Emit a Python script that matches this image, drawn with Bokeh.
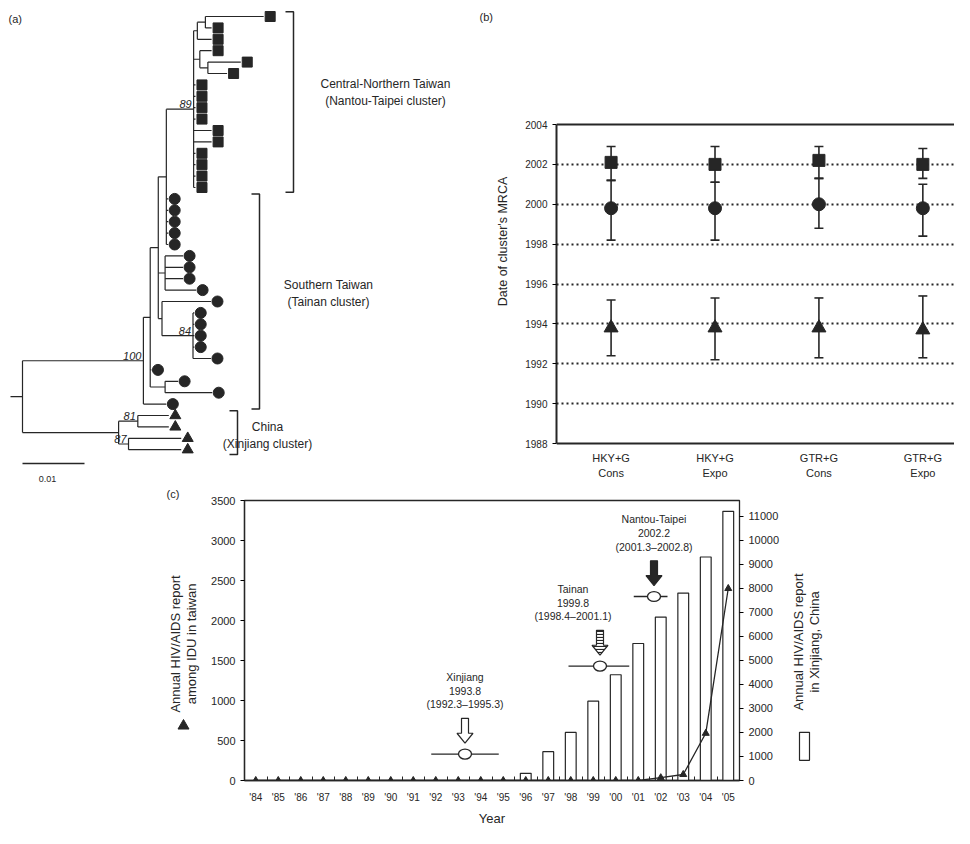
import re
import math
from bokeh.plotting import figure
from bokeh.models import (Range1d, LinearAxis, FixedTicker, Whisker, TeeHead,
                          Span, ColumnDataSource)
from bokeh.layouts import column, row
from bokeh.embed import file_html
from bokeh.resources import INLINE
from bokeh.core.properties import value

FONT = "Liberation Sans"
INK = "#262626"

# ---------------- DATA ----------------
# (a) ML tree, branch lengths in substitutions/site, internal labels = bootstrap
tree_newick = (
    "((((((((NT01:0.0094,NT02:0.0010):0.0013,NT03:0.0023):0.0006,"
    "(NT04:0.0019,(NT05:0.0053,NT06:0.0031):0.0013):0.0010,"
    "NT07:0.0003,NT08:0.0003,NT09:0.0003,NT10:0.0003,NT11:0.0029,NT12:0.0029,"
    "NT13:0.0003,NT14:0.0003,NT15:0.0003,NT16:0.0003)89:0.0044,"
    "TN01:0.0003,TN02:0.0003,TN03:0.0003,TN04:0.0003,TN05:0.0003):0.0013,"
    "(TN06:0.0029,TN07:0.0029,TN08:0.0029,TN09:0.0050):0.0011,"
    "(TN10:0.0079,(TN11:0.0002,TN12:0.0002,TN13:0.0002,TN14:0.0002,TN15:0.0029)84:0.0050):0.0006"
    "):0.0013,"
    "TN16:0.0002,(TN17:0.0021,TN18:0.0076):0.0024):0.0011,"
    "TN19:0.0037)100:0.0195,"
    "((XJ1:0.0050,XJ2:0.0050)81:0.0031,(XJ3:0.0085,XJ4:0.0085)87:0.0016):0.0155);"
)
cluster_prefix = ["NT", "TN", "XJ"]
cluster_markers = ["square", "circle", "triangle"]
cluster_labels = ["Central-Northern Taiwan\n(Nantou-Taipei cluster)",
                  "Southern Taiwan\n(Tainan cluster)",
                  "China\n(Xinjiang cluster)"]
scale_bar_len = 0.01

# (b) dates of the clusters' MRCA under four models
models = ["HKY+G\nCons", "HKY+G\nExpo", "GTR+G\nCons", "GTR+G\nExpo"]
nt_mrca = [2002.1, 2002.0, 2002.2, 2002.0]
nt_low = [2001.2, 2001.1, 2001.3, 2001.3]
nt_high = [2002.9, 2002.9, 2002.9, 2002.8]
tn_mrca = [1999.8, 1999.8, 2000.0, 1999.8]
tn_low = [1998.2, 1998.2, 1998.8, 1998.4]
tn_high = [2001.2, 2001.1, 2001.3, 2001.0]
xj_mrca = [1993.8, 1993.8, 1993.8, 1993.7]
xj_low = [1992.4, 1992.2, 1992.3, 1992.3]
xj_high = [1995.2, 1995.3, 1995.3, 1995.4]

# (c) annual reports
years = [1984, 1985, 1986, 1987, 1988, 1989, 1990, 1991, 1992, 1993, 1994,
         1995, 1996, 1997, 1998, 1999, 2000, 2001, 2002, 2003, 2004, 2005]
year_labels = ["'84", "'85", "'86", "'87", "'88", "'89", "'90", "'91", "'92", "'93", "'94",
               "'95", "'96", "'97", "'98", "'99", "'00", "'01", "'02", "'03", "'04", "'05"]
taiwan_idu = [0, 0, 0, 0, 0, 0, 0, 0, 0, 0, 0,
              0, 0, 0, 0, 0, 0, 0, 35, 75, 590, 2400]
xinjiang = [0, 0, 0, 0, 0, 0, 0, 0, 0, 0, 0,
            0, 300, 1200, 2000, 3300, 4400, 5700, 6800, 7800, 9300, 11200]
cl_names = ["Xinjiang", "Tainan", "Nantou-Taipei"]
cl_mrca = [1993.8, 1999.8, 2002.2]
cl_low = [1992.3, 1998.4, 2001.3]
cl_high = [1995.3, 2001.1, 2002.8]

# ---------------- layout constants ----------------
TOP_H = 482
A_W, B_W = 493, 461

# ================= (a) tree =================
def parse_newick(s):
    pos = 0

    def node():
        nonlocal pos
        n = {"children": [], "name": "", "length": 0.0}
        if s[pos] == "(":
            pos += 1
            while True:
                n["children"].append(node())
                if s[pos] == ",":
                    pos += 1
                    continue
                pos += 1  # ')'
                break
        m = re.match(r"[^:,();]*", s[pos:])
        n["name"] = m.group(0)
        pos += len(m.group(0))
        if s[pos] == ":":
            pos += 1
            m = re.match(r"[0-9.eE+-]+", s[pos:])
            n["length"] = float(m.group(0))
            pos += len(m.group(0))
        return n
    return node()


root = parse_newick(tree_newick)
leaves = []
internals = []


def layout(n, x0):
    n["x"] = x0 + n["length"]
    if not n["children"]:
        n["y"] = float(len(leaves))
        leaves.append(n)
    else:
        for c in n["children"]:
            layout(c, n["x"])
        n["y"] = (n["children"][0]["y"] + n["children"][-1]["y"]) / 2
        internals.append(n)


layout(root, 0.0)

PXU = 6200.0          # screen px per substitution unit
ROOT_PX = 22.0
LEAF_PX = 11.4
LEAF0_PX = 16.0


def ax_(px):
    return (px - ROOT_PX) / PXU


def ay_(py):
    return (py - LEAF0_PX) / LEAF_PX


pa = figure(width=A_W, height=TOP_H, output_backend="svg", toolbar_location=None,
            x_range=Range1d(ax_(0), ax_(A_W)), y_range=Range1d(ay_(TOP_H), ay_(0)),
            x_axis_location=None, y_axis_location=None, min_border=0)
pa.grid.visible = False
pa.outline_line_color = None

hx0, hx1, hy, vx, vy0, vy1 = [], [], [], [], [], []
for n in internals:
    vx.append(n["x"])
    vy0.append(n["children"][0]["y"])
    vy1.append(n["children"][-1]["y"])
    for c in n["children"]:
        hx0.append(n["x"])
        hx1.append(c["x"])
        hy.append(c["y"])
hx0.append(root["x"] - 12 / PXU)
hx1.append(root["x"])
hy.append(root["y"])
pa.segment(x0=hx0, y0=hy, x1=hx1, y1=hy, line_color=INK, line_width=1.2)
pa.segment(x0=vx, y0=vy0, x1=vx, y1=vy1, line_color=INK, line_width=1.2)

marker_sizes = {"square": 10, "circle": 11, "triangle": 11}
for pre, mk in zip(cluster_prefix, cluster_markers):
    lv = [l for l in leaves if l["name"].startswith(pre)]
    pa.scatter([l["x"] + 6.5 / PXU for l in lv], [l["y"] for l in lv], marker=mk,
               size=marker_sizes[mk], fill_color=INK, line_color=INK)

bs = [n for n in internals if n["name"]]
pa.text(x=[n["x"] - 2 / PXU for n in bs], y=[n["y"] - 0.1 for n in bs],
        text=[n["name"] for n in bs], text_font=value(FONT), text_font_size="11px",
        text_font_style="italic", text_align="right", text_baseline="bottom",
        text_color=INK)

bracket_px = [293, 259, 237]
label_px = [385, 328, 267]
label_shift = [-0.85, -0.7, 0.25]
for pre, bpx, lpx, sh, lab in zip(cluster_prefix, bracket_px, label_px, label_shift,
                                  cluster_labels):
    ys = [l["y"] for l in leaves if l["name"].startswith(pre)]
    y0, y1 = min(ys) - 0.42, max(ys) + 0.42
    bx, tx = ax_(bpx), ax_(bpx - 8)
    pa.line([tx, bx, bx, tx], [y0, y0, y1, y1], line_color=INK, line_width=1.5)
    pa.text(x=[ax_(lpx)], y=[(min(ys) + max(ys)) / 2 + sh], text=[lab],
            text_font=value(FONT), text_font_size="12px", text_align="center",
            text_baseline="middle", text_color=INK)

sb_y = ay_(463)
pa.line([0, scale_bar_len], [sb_y, sb_y], line_color=INK, line_width=1.5)
pa.text(x=[scale_bar_len / 2 - 6 / PXU], y=[ay_(478)], text=["0.01"], text_font=value(FONT),
        text_font_size="9px", text_align="center", text_baseline="middle", text_color=INK)
pa.text(x=[ax_(8)], y=[ay_(18)], text=["(a)"], text_font=value(FONT), text_font_size="11px",
        text_baseline="middle", text_color=INK)
pa.text(x=[ax_(479)], y=[ay_(16)], text=["(b)"], text_font=value(FONT), text_font_size="11px",
        text_baseline="middle", text_color=INK)

# ================= (b) MRCA dates =================
B_LEFT = 553 - A_W
B_FT, B_FB = 124, 443           # frame top / bottom (page px) for 2004 / 1988
B_YPX = (B_FB - B_FT) / 16.0
B_XPX = 104.7
B_XS = -55 / B_XPX
B_XE = B_XS + (B_W - B_LEFT) / B_XPX
pb = figure(width=B_W, height=TOP_H, output_backend="svg", toolbar_location=None,
            x_range=Range1d(B_XS, B_XE),
            y_range=Range1d(1988 - (TOP_H - B_FB) / B_YPX, 2004 + B_FT / B_YPX),
            x_axis_location=None, min_border_left=B_LEFT, min_border_right=0,
            min_border_top=0, min_border_bottom=0)
pb.outline_line_color = None
pb.xgrid.visible = False
pb.ygrid.ticker = FixedTicker(ticks=[1990, 1992, 1994, 1996, 1998, 2000, 2002])
pb.ygrid.grid_line_color = INK
pb.ygrid.grid_line_width = 2
pb.ygrid.grid_line_dash = "2 3"
pb.add_layout(Span(location=2004, dimension="width", line_color=INK, line_width=2))
pb.add_layout(Span(location=1988, dimension="width", line_color=INK, line_width=2))

pb.yaxis.bounds = (1988, 2004)
pb.yaxis.ticker = FixedTicker(ticks=list(range(1988, 2005, 2)))
pb.yaxis.axis_label = "Date of cluster's MRCA"
pb.yaxis.axis_label_text_font = FONT
pb.yaxis.axis_label_text_font_size = "12.5px"
pb.yaxis.axis_label_text_font_style = "normal"
pb.yaxis.axis_label_text_color = INK
pb.yaxis.axis_label_standoff = 12
pb.yaxis.major_label_text_font = FONT
pb.yaxis.major_label_text_font_size = "10px"
pb.yaxis.major_label_text_color = INK
pb.yaxis.minor_tick_line_color = None
pb.yaxis.major_tick_out = 4
pb.yaxis.major_tick_in = 0
pb.yaxis.axis_line_width = 2
pb.yaxis.axis_line_color = INK

xs_b = [0, 1, 2, 3]
for mid, lo, hi, mk, sz in [(nt_mrca, nt_low, nt_high, "square", 12),
                            (tn_mrca, tn_low, tn_high, "circle", 13),
                            (xj_mrca, xj_low, xj_high, "triangle", 14)]:
    src = ColumnDataSource(dict(x=xs_b, lo=lo, hi=hi))
    pb.add_layout(Whisker(source=src, base="x", lower="lo", upper="hi", dimension="height",
                          line_color=INK, line_width=1.6,
                          upper_head=TeeHead(size=9, line_color=INK, line_width=1.6),
                          lower_head=TeeHead(size=9, line_color=INK, line_width=1.6)))
    pb.scatter(xs_b, mid, marker=mk, size=sz, fill_color=INK, line_color=INK)

pb.text(x=xs_b, y=[1988 - 8 / B_YPX] * 4, text=models, text_font=value(FONT),
        text_font_size="11px", text_align="center", text_baseline="top", text_color=INK,
        text_line_height=1.25)

# ================= (c) annual reports =================
C_H = 346
L_W = 205
C_LEFT, C_RIGHT = 39, 45
C_FW = 495
C_W = C_LEFT + C_FW + C_RIGHT
R_W = 954 - L_W - C_W
C_TOP, C_BOTTOM = 18, 46
C_XS, C_XE = 1984, 2006
Y_L, Y_R = 3500, 11650

pc = figure(width=C_W, height=C_H, output_backend="svg", toolbar_location=None,
            x_range=Range1d(C_XS, C_XE), y_range=Range1d(0, Y_L),
            min_border_left=C_LEFT, min_border_right=C_RIGHT, min_border_top=C_TOP,
            min_border_bottom=C_BOTTOM)
pc.extra_y_ranges = {"right": Range1d(0, Y_R)}
pc.grid.visible = False
pc.outline_line_color = INK
pc.outline_line_width = 1.3

XPX = C_FW / (C_XE - C_XS)
YPX = (C_H - C_TOP - C_BOTTOM) / Y_L

centers = [y + 0.5 for y in years]
pc.xaxis.ticker = FixedTicker(ticks=centers, minor_ticks=years + [years[-1] + 1])
pc.xaxis.major_label_overrides = {c: l for c, l in zip(centers, year_labels)}
pc.xaxis.major_tick_line_color = None
pc.xaxis.minor_tick_in = 4
pc.xaxis.minor_tick_out = 0
pc.xaxis.minor_tick_line_color = INK
pc.xaxis.major_label_standoff = 5
pc.xaxis.major_label_text_font = FONT
pc.xaxis.major_label_text_font_size = "10px"
pc.xaxis.major_label_text_color = INK
pc.xaxis.axis_label = "Year"
pc.xaxis.axis_label_text_font = FONT
pc.xaxis.axis_label_text_font_size = "13px"
pc.xaxis.axis_label_text_font_style = "normal"
pc.xaxis.axis_label_text_color = INK
pc.xaxis.axis_label_standoff = 5
pc.xaxis.axis_line_color = INK
pc.xaxis.axis_line_width = 1.3

pc.yaxis.ticker = FixedTicker(ticks=list(range(0, 3501, 500)))
pc.yaxis.minor_tick_line_color = None
pc.yaxis.major_tick_out = 4
pc.yaxis.major_tick_in = 0
pc.yaxis.major_label_text_font = FONT
pc.yaxis.major_label_text_font_size = "11px"
pc.yaxis.major_label_text_color = INK
pc.yaxis.axis_line_color = INK
pc.yaxis.axis_line_width = 1.3

ry = LinearAxis(y_range_name="right", ticker=FixedTicker(ticks=list(range(0, 11001, 1000))))
ry.minor_tick_line_color = None
ry.major_tick_out = 4
ry.major_tick_in = 0
ry.major_label_text_font = FONT
ry.major_label_text_font_size = "11px"
ry.major_label_text_color = INK
ry.axis_line_color = INK
pc.add_layout(ry, "right")

bx_ = [c for c, v in zip(centers, xinjiang) if v > 0]
bv_ = [v for v in xinjiang if v > 0]
pc.vbar(x=bx_, top=bv_, width=0.48, bottom=0, y_range_name="right",
        fill_color="white", line_color=INK, line_width=1.2)
pc.line(centers, taiwan_idu, line_color=INK, line_width=1.3)
pc.scatter(centers, taiwan_idu, marker="triangle", size=7, fill_color=INK, line_color=INK)

annot_y = [330, 1430, 2300]
text_dx_px = [0, -27, 0]
arrow_styles = [dict(fill_color="white"),
                dict(fill_color="white", hatch_pattern="horizontal_line", hatch_color=INK,
                     hatch_scale=3, hatch_weight=1.2),
                dict(fill_color=INK)]
for i in range(3):
    m, lo, hi, yv = cl_mrca[i], cl_low[i], cl_high[i], annot_y[i]
    pc.segment(x0=[lo], y0=[yv], x1=[hi], y1=[yv], line_color=INK, line_width=1.3)
    pc.ellipse(x=[m], y=[yv], width=13 / XPX, height=10 / YPX, fill_color="white",
               line_color=INK, line_width=1.3)
    tip = yv + 11 / YPX
    tail = tip + 25 / YPX
    neck = tip + 10 / YPX
    sw, hw = 3.5 / XPX, 8 / XPX
    pc.patch([m - sw, m + sw, m + sw, m + hw, m, m - hw, m - sw],
             [tail, tail, neck, neck, tip, neck, neck],
             line_color=INK, line_width=1.2, **arrow_styles[i])
    lab = f"{cl_names[i]}\n{m}\n({lo}\u2013{hi})"
    pc.text(x=[m + text_dx_px[i] / XPX], y=[tail + 8 / YPX], text=[lab],
            text_font=value(FONT), text_font_size="10.5px", text_align="center",
            text_baseline="bottom", text_color=INK, text_line_height=1.15)

# side panels carrying the axis titles and their series keys


def side_fig(w):
    f = figure(width=w, height=C_H, output_backend="svg", toolbar_location=None,
               x_range=Range1d(0, w), y_range=Range1d(0, Y_L),
               x_axis_location=None, y_axis_location=None, min_border=0,
               min_border_top=C_TOP, min_border_bottom=C_BOTTOM)
    f.grid.visible = False
    f.outline_line_color = None
    return f


def fy(ref_py):   # reference page y inside (c) frame -> left-axis units
    return (796 - ref_py) / 287 * Y_L


pl = side_fig(L_W)
pl.title.text = "(c)"
pl.title.text_font = FONT
pl.title.text_font_size = "11px"
pl.title.text_font_style = "normal"
pl.title.text_color = INK
pl.title.align = "left"
pl.title.offset = 166
pl.title.standoff = 2
pl.text(x=[183], y=[fy(656)], text=["Annual HIV/AIDS report\namong IDU in taiwan"],
        angle=math.pi / 2, text_font=value(FONT), text_font_size="13px",
        text_align="center", text_baseline="middle", text_color=INK, text_line_height=1.1)
pl.scatter([183], [fy(740)], marker="triangle", size=11, fill_color=INK, line_color=INK)

pr = side_fig(R_W)
x0r = L_W + C_W
pr.text(x=[806 - x0r], y=[fy(654)], text=["Annual HIV/AIDS report\nin Xinjiang, China"],
        angle=math.pi / 2, text_font=value(FONT), text_font_size="13px",
        text_align="center", text_baseline="middle", text_color=INK, text_line_height=1.1)
pr.rect(x=[804 - x0r], y=[fy(761)], width=10, height=28, width_units="screen",
        height_units="screen", fill_color="white", line_color=INK, line_width=1.2)

layout_ = column(row(pa, pb), row(pl, pc, pr))
open("out.html", "w").write(file_html(layout_, INLINE))
